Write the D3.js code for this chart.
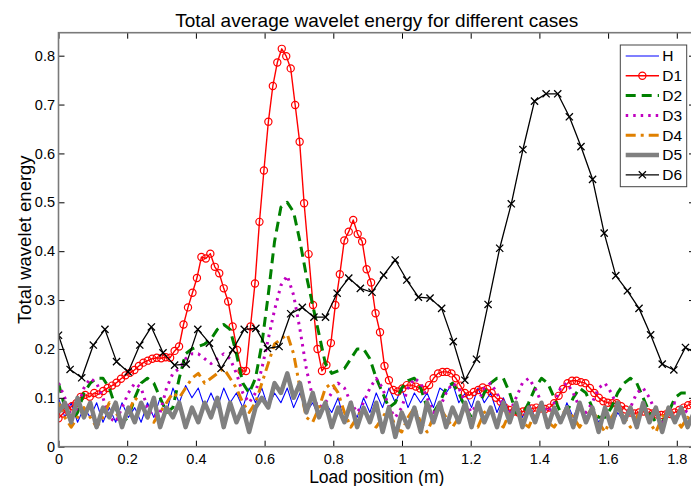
<!DOCTYPE html>
<html><head><meta charset="utf-8">
<script src="https://cdn.jsdelivr.net/npm/d3@7"></script>
<style>body{margin:0;background:#fff}svg{display:block}text{font-family:"Liberation Sans",Arial,Helvetica,sans-serif;fill:#000}</style>
</head><body><svg id="chart" width="691" height="486"></svg>
<script>
// ---------- data ----------
const titleText = "Total average wavelet energy for different cases";
const xLabelText = "Load position (m)";
const yLabelText = "Total wavelet energy";
const seriesNames = ["H","D1","D2","D3","D4","D5","D6"];
const xTicks = [0,0.2,0.4,0.6,0.8,1,1.2,1.4,1.6,1.8];
const yTicks = [0,0.1,0.2,0.3,0.4,0.5,0.6,0.7,0.8];
const stepD1 = 0.013;      // sampling step of D1 (m)
const stepNoisy = 0.0185;  // sampling step of H, D2..D5 (m)
const stepD6 = 0.0338;     // sampling step of D6 (m)

const valuesH = [0.10,0.06,0.09,0.05,0.08,0.06,0.09,0.05,0.08,0.05,0.09,0.06,0.08,0.05,0.09,0.06,0.10,0.07,0.12,0.09,0.125,0.10,0.12,0.08,0.11,0.08,0.12,0.09,0.11,0.08,0.12,0.09,0.12,0.08,0.11,0.09,0.12,0.08,0.11,0.07,0.09,0.06,0.09,0.07,0.10,0.05,0.08,0.06,0.10,0.07,0.11,0.08,0.12,0.09,0.12,0.08,0.11,0.09,0.11,0.08,0.12,0.11,0.13,0.09,0.11,0.08,0.12,0.09,0.11,0.07,0.10,0.07,0.09,0.06,0.09,0.06,0.08,0.05,0.08,0.05,0.09,0.06,0.09,0.06,0.08,0.05,0.07,0.04,0.07,0.05,0.07,0.05,0.08,0.05,0.07,0.04,0.07,0.05,0.07,0.05,0.07];
const valuesD1 = [0.058,0.068,0.075,0.083,0.089,0.102,0.106,0.102,0.110,0.107,0.114,0.120,0.125,0.131,0.139,0.146,0.151,0.157,0.165,0.172,0.176,0.180,0.182,0.181,0.183,0.182,0.196,0.205,0.250,0.285,0.315,0.345,0.388,0.385,0.395,0.368,0.355,0.324,0.297,0.246,0.198,0.155,0.155,0.246,0.334,0.460,0.565,0.665,0.738,0.786,0.814,0.799,0.774,0.699,0.624,0.498,0.394,0.29,0.20,0.155,0.167,0.212,0.290,0.353,0.422,0.440,0.464,0.435,0.420,0.363,0.336,0.273,0.234,0.165,0.136,0.116,0.113,0.119,0.126,0.126,0.123,0.119,0.116,0.126,0.140,0.150,0.153,0.153,0.150,0.140,0.125,0.110,0.105,0.112,0.116,0.121,0.118,0.110,0.100,0.092,0.080,0.075,0.072,0.070,0.072,0.075,0.078,0.080,0.078,0.077,0.080,0.089,0.104,0.118,0.130,0.135,0.135,0.132,0.130,0.120,0.110,0.100,0.093,0.090,0.089,0.089,0.083,0.076,0.070,0.068,0.070,0.072,0.070,0.068,0.066,0.065,0.066,0.067,0.070,0.075,0.080,0.085,0.088];
const valuesD2 = [0.13,0.08,0.05,0.07,0.11,0.13,0.14,0.14,0.12,0.08,0.05,0.06,0.10,0.13,0.14,0.13,0.10,0.07,0.08,0.14,0.19,0.20,0.205,0.21,0.22,0.24,0.25,0.24,0.19,0.13,0.11,0.14,0.21,0.31,0.42,0.49,0.50,0.48,0.42,0.35,0.29,0.23,0.17,0.15,0.155,0.16,0.18,0.20,0.20,0.18,0.14,0.11,0.08,0.09,0.12,0.135,0.14,0.12,0.08,0.07,0.09,0.12,0.13,0.11,0.08,0.06,0.08,0.11,0.13,0.14,0.14,0.11,0.07,0.065,0.09,0.12,0.14,0.13,0.10,0.07,0.07,0.10,0.12,0.11,0.08,0.06,0.06,0.08,0.11,0.13,0.14,0.13,0.10,0.07,0.05,0.05,0.07,0.10,0.11,0.11,0.11];
const valuesD3 = [0.13,0.10,0.06,0.08,0.12,0.14,0.13,0.10,0.06,0.05,0.08,0.11,0.13,0.12,0.08,0.06,0.07,0.12,0.15,0.16,0.18,0.19,0.19,0.18,0.17,0.18,0.19,0.18,0.15,0.11,0.09,0.11,0.16,0.22,0.28,0.33,0.35,0.31,0.24,0.16,0.10,0.08,0.09,0.11,0.13,0.12,0.09,0.07,0.09,0.12,0.14,0.12,0.08,0.06,0.08,0.12,0.14,0.13,0.10,0.07,0.08,0.11,0.13,0.12,0.09,0.07,0.09,0.12,0.13,0.11,0.08,0.07,0.10,0.13,0.14,0.12,0.09,0.07,0.09,0.12,0.13,0.11,0.08,0.07,0.09,0.12,0.13,0.11,0.08,0.06,0.08,0.11,0.12,0.10,0.07,0.05,0.07,0.09,0.08,0.07,0.06];
const valuesD4 = [0.09,0.06,0.04,0.06,0.08,0.06,0.04,0.06,0.09,0.07,0.05,0.07,0.10,0.09,0.06,0.05,0.07,0.09,0.11,0.10,0.12,0.14,0.15,0.13,0.14,0.15,0.16,0.14,0.12,0.09,0.07,0.09,0.13,0.17,0.21,0.22,0.23,0.19,0.12,0.06,0.05,0.08,0.12,0.13,0.11,0.07,0.04,0.06,0.08,0.05,0.04,0.06,0.08,0.04,0.03,0.06,0.08,0.05,0.03,0.06,0.08,0.06,0.04,0.06,0.08,0.05,0.04,0.07,0.08,0.05,0.04,0.07,0.08,0.05,0.04,0.07,0.08,0.05,0.04,0.06,0.08,0.06,0.04,0.06,0.08,0.05,0.03,0.06,0.08,0.06,0.04,0.06,0.08,0.05,0.03,0.06,0.08,0.06,0.04,0.06,0.05];
const valuesD5 = [0.07,0.09,0.05,0.10,0.06,0.09,0.04,0.08,0.06,0.09,0.04,0.08,0.05,0.09,0.06,0.10,0.04,0.08,0.06,0.09,0.04,0.08,0.05,0.09,0.06,0.10,0.04,0.09,0.05,0.08,0.03,0.08,0.10,0.08,0.13,0.11,0.15,0.10,0.13,0.07,0.11,0.06,0.09,0.04,0.08,0.05,0.09,0.04,0.08,0.05,0.09,0.03,0.08,0.02,0.07,0.04,0.08,0.03,0.09,0.05,0.09,0.04,0.08,0.05,0.09,0.04,0.09,0.05,0.08,0.04,0.09,0.05,0.09,0.04,0.08,0.05,0.09,0.04,0.08,0.05,0.08,0.04,0.09,0.05,0.08,0.03,0.08,0.04,0.09,0.05,0.08,0.04,0.09,0.05,0.08,0.03,0.08,0.05,0.08,0.04,0.07];
const valuesD6 = [0.228,0.158,0.141,0.208,0.240,0.174,0.153,0.208,0.245,0.192,0.167,0.169,0.240,0.212,0.160,0.198,0.240,0.242,0.201,0.205,0.272,0.285,0.265,0.265,0.314,0.345,0.324,0.316,0.351,0.382,0.341,0.306,0.304,0.283,0.215,0.136,0.179,0.291,0.406,0.497,0.608,0.707,0.722,0.722,0.675,0.614,0.547,0.437,0.350,0.319,0.283,0.229,0.169,0.157,0.203,0.19];

// ---------- layout ----------
const svg = d3.select("#chart");
const x = d3.scaleLinear().domain([0, 1.853]).range([58.5, 695]);
const y = d3.scaleLinear().domain([0, 0.847]).range([446.7, 32.7]);
const [x0, x1] = x.range(), [yB, yT] = y.range();

svg.append("defs").append("clipPath").attr("id","clip")
  .append("rect").attr("x",x0).attr("y",yT).attr("width",x1-x0).attr("height",yB-yT);

const styles = {
  H:  {color:"#0000ff", width:1.1, dash:null},
  D1: {color:"#ff0000", width:1.4, dash:null, marker:"circle"},
  D2: {color:"#008000", width:3, dash:"10,6"},
  D3: {color:"#c000c0", width:3, dash:"2.5,5"},
  D4: {color:"#e08000", width:3, dash:"10,5,3,5"},
  D5: {color:"#808080", width:4.5, dash:null},
  D6: {color:"#000000", width:1.3, dash:null, marker:"x"}
};
const seriesData = {
  H:  valuesH.map((v,i)=>[i*stepNoisy, v]),
  D1: valuesD1.map((v,i)=>[i*stepD1, v]),
  D2: valuesD2.map((v,i)=>[i*stepNoisy, v]),
  D3: valuesD3.map((v,i)=>[i*stepNoisy, v]),
  D4: valuesD4.map((v,i)=>[i*stepNoisy, v]),
  D5: valuesD5.map((v,i)=>[i*stepNoisy, v]),
  D6: valuesD6.map((v,i)=>[i*stepD6, v])
};

const plot = svg.append("g").attr("clip-path","url(#clip)");
const line = d3.line().x(d=>x(d[0])).y(d=>y(d[1]));
const drawOrder = ["H","D1","D2","D3","D4","D5","D6"];
drawOrder.forEach(name=>{
  const st = styles[name], data = seriesData[name];
  plot.append("path").datum(data).attr("d",line)
    .attr("fill","none").attr("stroke",st.color).attr("stroke-width",st.width)
    .attr("stroke-dasharray",st.dash).attr("stroke-linejoin","round");
  if (st.marker==="circle") {
    plot.append("g").selectAll("circle").data(data).join("circle")
      .attr("cx",d=>x(d[0])).attr("cy",d=>y(d[1])).attr("r",3.6)
      .attr("fill","none").attr("stroke",st.color).attr("stroke-width",1.2);
  } else if (st.marker==="x") {
    const s=3.6;
    plot.append("g").selectAll("path").data(data).join("path")
      .attr("d",d=>{const cx=x(d[0]),cy=y(d[1]);return `M${cx-s},${cy-s}L${cx+s},${cy+s}M${cx-s},${cy+s}L${cx+s},${cy-s}`;})
      .attr("stroke",st.color).attr("stroke-width",1.3);
  }
});

// ---------- axes ----------
const tickLen = 6, fs = "14.5px";
const gB = svg.append("g").attr("transform",`translate(0,${yB})`)
  .call(d3.axisBottom(x).tickValues(xTicks).tickSize(-tickLen).tickPadding(7.3).tickFormat(d3.format("~g")));
const gT = svg.append("g").attr("transform",`translate(0,${yT})`)
  .call(d3.axisTop(x).tickValues(xTicks).tickSize(-tickLen).tickFormat(""));
const gL = svg.append("g").attr("transform",`translate(${x0},0)`)
  .call(d3.axisLeft(y).tickValues(yTicks).tickSize(-tickLen).tickPadding(3.5).tickFormat(d3.format("~g")));
const gR = svg.append("g").attr("transform",`translate(${x1},0)`)
  .call(d3.axisRight(y).tickValues(yTicks).tickSize(-tickLen).tickFormat(""));
[gB,gT,gL,gR].forEach(g=>{
  g.select(".domain").remove();
  g.selectAll(".tick line").attr("stroke","#000").attr("stroke-width",1);
  g.selectAll("text").attr("font-size",fs).attr("font-family",null).attr("fill","#000");
});
svg.append("rect").attr("x",x0).attr("y",yT).attr("width",x1-x0).attr("height",yB-yT)
  .attr("fill","none").attr("stroke","#7a7a7a").attr("stroke-width",1.6);

// ---------- labels ----------
const cx = (x0+x1)/2;
svg.append("text").attr("x",cx).attr("y",27).attr("text-anchor","middle").attr("font-size","19px").text(titleText);
svg.append("text").attr("x",cx).attr("y",482.5).attr("text-anchor","middle").attr("font-size","17.5px").text(xLabelText);
svg.append("text").attr("transform",`translate(31,${(yT+yB)/2}) rotate(-90)`).attr("text-anchor","middle").attr("font-size","18.5px").text(yLabelText);

// ---------- legend ----------
const lg = svg.append("g");
lg.append("rect").attr("x",620.3).attr("y",45).attr("width",66.4).attr("height",141.7)
  .attr("fill","#fff").attr("stroke","#444").attr("stroke-width",1);
seriesNames.forEach((name,i)=>{
  const st = styles[name], ly = 56 + 19.8*i, lx0 = 625.7, lx1 = 659;
  lg.append("line").attr("x1",lx0).attr("x2",lx1).attr("y1",ly).attr("y2",ly)
    .attr("stroke",st.color).attr("stroke-width",st.width).attr("stroke-dasharray",st.dash);
  const mx = (lx0+lx1)/2;
  if (st.marker==="circle") lg.append("circle").attr("cx",mx).attr("cy",ly).attr("r",3.6).attr("fill","none").attr("stroke",st.color).attr("stroke-width",1.2);
  if (st.marker==="x") { const s=3.6; lg.append("path").attr("d",`M${mx-s},${ly-s}L${mx+s},${ly+s}M${mx-s},${ly+s}L${mx+s},${ly-s}`).attr("stroke",st.color).attr("stroke-width",1.3); }
  lg.append("text").attr("x",662.3).attr("y",ly).attr("dy","0.35em").attr("font-size","15.5px").text(name);
});
</script></body></html>
